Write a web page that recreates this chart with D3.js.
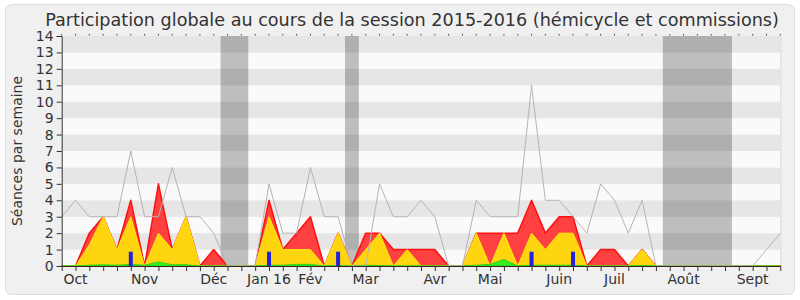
<!DOCTYPE html>
<html>
<head>
<meta charset="utf-8">
<script src="https://cdn.jsdelivr.net/npm/d3@7"></script>
<style>
	body { margin: 0; background: #ffffff; }
	text { font-family: "DejaVu Sans", Verdana, sans-serif; fill: #333333; }
</style>
</head>
<body>
<div id="chart-area"></div>
<script>

// Donnees par semaine (semaine 0 a 52)
var mediane = [3,4,3,3,3,7,3,3,6,3,3,2,0,0,0,5,2,2,6,3,3,0,0,5,3,3,4,3,0,0,4,3,3,3,11,4,4,3,2,5,4,2,4,0,0,0,0,0,0,0,0,1,2];
var presences = [0,0,2,3,1,4,0,5,1,3,0,1,0,0,0,4,1,2,3,0,2,0,2,2,1,1,1,1,0,0,2,2,2,2,4,2,3,3,0,1,1,0,1,0,0,0,0,0,0,0,0,0,0];
var hemicycle = [0,0,1.3,3,1,3,0,2,1,3,0,0,0,0,0,3,1,1,1,0,2,0,1,2,0,1,0,0,0,0,2,0,2,0,2,1,2,2,0,0,0,0,1,0,0,0,0,0,0,0,0,0,0];
var interventions = [0,0,0.05,0.08,0.05,0.1,0.05,0.25,0.08,0.08,0,0,0,0,0,0.05,0.05,0.1,0.1,0,0.03,0,0.05,0.03,0,0,0,0,0,0,0.05,0.1,0.4,0,0.05,0.05,0.05,0.05,0,0,0,0,0.03,0,0,0,0,0,0,0,0,0,0];
var questionsSemaines = [5,15,20,34,37];
var questionsValeurs = [0.87,0.87,0.87,0.87,0.87];
var vacances = [[11.5,13.5],[20.5,21.5],[43.5,48.5]];
var moisLabels = ["Oct","Nov","Déc","Jan 16","Fév","Mar","Avr","Mai","Juin","Juil","Août","Sept"];
var moisSemaines = [1,6,11,15,18,22,27,31,36,40,45,50];
var yTicks = [0,1,2,3,4,5,6,7,8,9,10,11,12,13,14];

var svg = d3.select("#chart-area")
			.append("svg")
			.attr("width", 800)
			.attr("height", 300);

// fond du cadre
svg.append("rect")
	.attr("x", 5.5)
	.attr("y", 4.5)
	.attr("width", 789)
	.attr("height", 290)
	.attr("rx", 6)
	.attr("fill", "#f0f0f0")
	.attr("stroke", "#dddddd");

var x = d3.scaleLinear()
			.domain([0, 52])
			.range([61.7, 780.3]);

var y = d3.scaleLinear()
			.domain([0, 14])
			.range([266, 36]);

// bandes horizontales
svg.selectAll("rect.bande")
	.data(yTicks.slice(0, 14))
	.enter()
	.append("rect")
	.attr("class", "bande")
	.attr("x", x(0))
	.attr("width", x(52) - x(0))
	.attr("y", function(d){ return y(d + 1); })
	.attr("height", function(d){ return y(d) - y(d + 1); })
	.attr("fill", function(d){
		if(d % 2 == 1){
			return "#e6e6e6";
		}
		else{
			return "#fafafa";
		}
	});

svg.append("line")
	.attr("x1", x(52) + 0.5)
	.attr("x2", x(52) + 0.5)
	.attr("y1", y(14))
	.attr("y2", y(0))
	.attr("stroke", "#dcdcdc");

// vacances
svg.selectAll("rect.vacances")
	.data(vacances)
	.enter()
	.append("rect")
	.attr("class", "vacances")
	.attr("x", function(d){ return x(d[0]); })
	.attr("width", function(d){ return x(d[1]) - x(d[0]); })
	.attr("y", y(14))
	.attr("height", y(0) - y(14))
	.attr("fill", "rgba(0,0,0,0.24)");

// aires
var aire = function(valeurs){
	return d3.area()
			.x(function(d, i){ return x(i); })
			.y0(y(0))
			.y1(function(d){ return y(d); })(valeurs);
};

svg.append("path")
	.attr("d", aire(presences))
	.attr("fill", "#ff4040")
	.attr("stroke", "#ff1010")
	.attr("stroke-width", 1.5)
	.attr("stroke-linejoin", "round");

svg.append("path")
	.attr("d", aire(hemicycle))
	.attr("fill", "#ffd510")
	.attr("stroke", "#ffe810")
	.attr("stroke-width", 1);

svg.append("path")
	.attr("d", aire(interventions))
	.attr("fill", "#33ee22")
	.attr("stroke", "#22cc11")
	.attr("stroke-width", 0.8);

// questions
svg.selectAll("rect.question")
	.data(questionsSemaines)
	.enter()
	.append("rect")
	.attr("class", "question")
	.attr("x", function(d){ return x(d) - 2; })
	.attr("width", 4)
	.attr("y", function(d, i){ return y(questionsValeurs[i]); })
	.attr("height", function(d, i){ return y(0) - y(questionsValeurs[i]); })
	.attr("fill", "#2222dd");

// mediane
svg.append("path")
	.attr("d", d3.line()
			.x(function(d, i){ return x(i); })
			.y(function(d){ return y(d); })(mediane))
	.attr("fill", "none")
	.attr("stroke", "#b4b4b4")
	.attr("stroke-width", 1);

// axes
var axeY = d3.axisLeft(y)
			.tickValues(yTicks)
			.tickSize(5)
			.tickPadding(3)
			.tickFormat(d3.format("d"));

var gy = svg.append("g")
			.attr("transform", "translate(" + x(0) + ",0)")
			.call(axeY);
gy.select(".domain").attr("stroke", "#333333");
gy.selectAll(".tick line").attr("stroke", "#333333");
gy.selectAll(".tick text")
	.attr("font-size", 14)
	.attr("font-family", "DejaVu Sans, sans-serif")
	.attr("fill", "#333333");

var semaines = presences.map(function(d, i){ return i; });

var axeX = d3.axisBottom(x)
			.tickValues(semaines)
			.tickSize(5)
			.tickSizeOuter(0)
			.tickFormat("");

var gx = svg.append("g")
			.attr("transform", "translate(0," + y(0) + ")")
			.call(axeX);
gx.select(".domain").attr("stroke", "#3a2222");
gx.selectAll(".tick line").attr("stroke", "#333333");

// petits traits en haut
svg.selectAll("line.haut")
	.data(semaines)
	.enter()
	.append("line")
	.attr("class", "haut")
	.attr("x1", function(d){ return x(d); })
	.attr("x2", function(d){ return x(d); })
	.attr("y1", y(14) - 2)
	.attr("y2", y(14) - 0.5)
	.attr("stroke", "#444444");

svg.selectAll("text.mois")
	.data(moisLabels)
	.enter()
	.append("text")
	.attr("class", "mois")
	.attr("x", function(d, i){ return x(moisSemaines[i]); })
	.attr("y", 284)
	.attr("text-anchor", "middle")
	.attr("font-size", 14)
	.text(function(d){ return d; });

svg.append("text")
	.attr("transform", "translate(22," + ((y(0) + y(14)) / 2) + ") rotate(-90)")
	.attr("text-anchor", "middle")
	.attr("font-size", 14)
	.text("Séances par semaine");

svg.append("text")
	.attr("x", 412)
	.attr("y", 26)
	.attr("text-anchor", "middle")
	.attr("font-size", 17.6)
	.text("Participation globale au cours de la session 2015-2016 (hémicycle et commissions)");

</script>
</body>
</html>
